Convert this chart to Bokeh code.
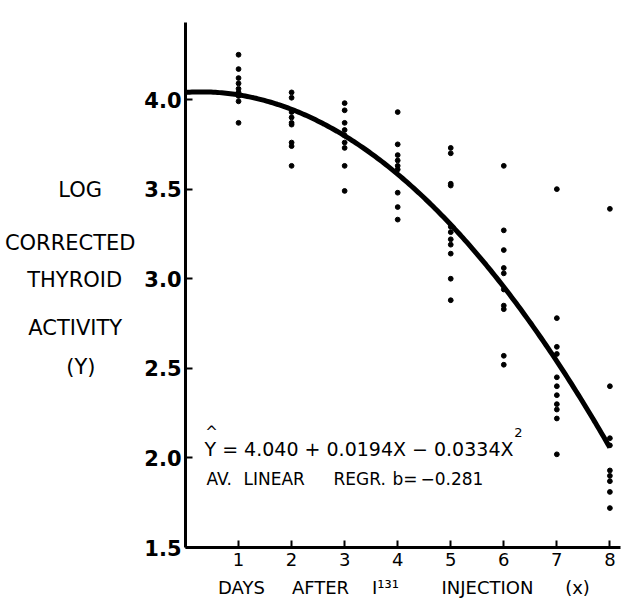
from bokeh.plotting import figure
from bokeh.models import Label, FixedTicker, Range1d, LinearAxis
from bokeh.embed import file_html
from bokeh.resources import INLINE
import numpy as np

# Log corrected thyroid activity per animal, by days after I-131 injection
day1 = [4.25, 4.17, 4.12, 4.09, 4.06, 4.04, 4.02, 3.99, 3.87]
day2 = [4.04, 4.01, 3.93, 3.90, 3.87, 3.86, 3.76, 3.74, 3.63]
day3 = [3.98, 3.94, 3.87, 3.83, 3.80, 3.76, 3.73, 3.63, 3.49]
day4 = [3.93, 3.75, 3.69, 3.66, 3.63, 3.61, 3.48, 3.40, 3.33]
day5 = [3.73, 3.70, 3.53, 3.52, 3.29, 3.26, 3.22, 3.19, 3.14, 3.00, 2.88]
day6 = [3.63, 3.27, 3.16, 3.06, 3.03, 2.94, 2.85, 2.83, 2.57, 2.52]
day7 = [3.50, 2.78, 2.62, 2.58, 2.45, 2.40, 2.35, 2.30, 2.27, 2.22, 2.02]
day8 = [3.39, 2.40, 2.11, 2.07, 1.93, 1.90, 1.87, 1.81, 1.72]
days = [1, 2, 3, 4, 5, 6, 7, 8]

# Fitted quadratic: Y = b0 + b1*X + b2*X^2
b0, b1, b2 = 4.040, 0.0194, -0.0334

x_ticks = [1, 2, 3, 4, 5, 6, 7, 8]
y_ticks = [1.5, 2.0, 2.5, 3.0, 3.5, 4.0]
y_tick_labels = ["1.5", "2.0", "2.5", "3.0", "3.5", "4.0"]

# axis titles, one entry per word / line
y_title_lines = ["LOG", "CORRECTED", "THYROID", "ACTIVITY", "(Y)"]
x_title_words = ["DAYS", "AFTER", "I\u00b9\u00b3\u00b9", "INJECTION", "(x)"]

FONT = "DejaVu Sans"
NB = "\u00a0"

W, H = 623, 600
LEFT, RIGHT, TOP, BOTTOM = 185, 620, 22, 548   # frame edges in canvas pixels

p = figure(width=W, height=H, output_backend="svg", toolbar_location=None,
           x_range=Range1d(0, 8.2), y_range=Range1d(1.5, 4.43),
           min_border_left=LEFT, min_border_right=W - RIGHT, min_border_top=TOP,
           min_border_bottom=H - BOTTOM)
p.outline_line_color = None
p.grid.grid_line_color = None
p.background_fill_color = "white"
p.border_fill_color = "white"

for ax in (p.xaxis[0], p.yaxis[0]):
    ax.axis_line_width = 3
    ax.axis_line_color = "black"
    ax.major_tick_in = 7
    ax.major_tick_out = 0
    ax.major_tick_line_width = 2
    ax.minor_tick_line_color = None
    ax.major_label_text_color = "black"
    ax.major_label_text_font = FONT

p.xaxis.ticker = FixedTicker(ticks=x_ticks)
p.xaxis.major_label_text_font_size = "18px"
p.xaxis.major_label_standoff = 5

p.yaxis.ticker = FixedTicker(ticks=y_ticks)
p.yaxis.major_label_overrides = {t: s for t, s in zip(y_ticks, y_tick_labels)}
p.yaxis.major_label_text_font_size = "21px"
p.yaxis.major_label_text_font_style = "bold"
p.yaxis.major_label_standoff = 4

# pixel-based helper ranges used only to place the axis titles
p.extra_y_ranges = {"ytitle": Range1d(BOTTOM, TOP)}
p.extra_x_ranges = {"xtitle": Range1d(LEFT, RIGHT)}


def title_axis(side, range_key, positions, texts, size, standoff):
    if side == "left":
        ax = LinearAxis(y_range_name=range_key)
    else:
        ax = LinearAxis(x_range_name=range_key)
    ax.ticker = FixedTicker(ticks=positions)
    ax.major_label_overrides = {k: t for k, t in zip(positions, texts)}
    ax.axis_line_color = None
    ax.major_tick_line_color = None
    ax.minor_tick_line_color = None
    ax.major_label_text_font = FONT
    ax.major_label_text_font_size = size
    ax.major_label_text_color = "black"
    ax.major_label_standoff = standoff
    p.add_layout(ax, side)


# y title: five stacked lines, roughly centred around x = 75
y_pad = [5, 0, 2, 2, 6]
title_axis("left", "ytitle", [190, 243, 280, 328, 367],
           [t + NB * n for t, n in zip(y_title_lines, y_pad)], "21px", 0)

# x title words
title_axis("below", "xtitle", [241, 320, 385, 487, 577], x_title_words, "18px", 2)

# scatter of individual observations
xs, ys = [], []
for d, vals in zip(days, [day1, day2, day3, day4, day5, day6, day7, day8]):
    xs += [d] * len(vals)
    ys += vals
p.scatter(xs, ys, size=4.8, color="black")

# regression curve
xc = np.linspace(0, 8, 200)
yc = b0 + b1 * xc + b2 * xc ** 2
p.line(xc, yc, line_width=5, color="black")


def lab(text, cx, cy, size, align="left"):
    # cx, cy: canvas pixels from the top-left corner
    p.add_layout(Label(x=cx, y=cy, x_units="canvas", y_units="canvas",
                       text=text, text_font=FONT, text_font_size=size,
                       text_align=align, text_baseline="middle",
                       text_color="black"))


# fitted equation and regression note
lab("^", 211, 431, "15px", "center")
lab("Y = 4.040 + 0.0194X \u2212 0.0334X", 204, 448, "19px")
lab("2", 518, 432, "13px", "center")
lab("AV.", 206, 478, "17px")
lab("LINEAR", 243, 478, "17px")
lab("REGR.", 333, 478, "17px")
lab("b=", 392, 478, "17px")
lab("\u22120.281", 420, 478, "17px")

open("out.html", "w").write(file_html(p, INLINE))
